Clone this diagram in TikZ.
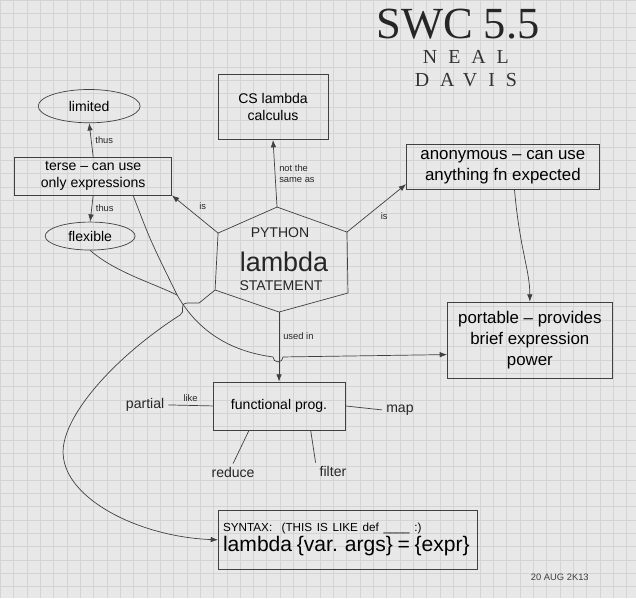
\documentclass[tikz,border=0pt]{standalone}
\usepackage{fontspec}
\setmainfont{Liberation Serif}
\setsansfont{Liberation Sans}
\newfontfamily\stampfont[LetterSpace=55]{Liberation Serif}
\usetikzlibrary{shapes.geometric, arrows.meta}

\begin{document}
\begin{tikzpicture}[
    x=0.03cm, y=-0.03cm,
    >={Latex[length=2.2mm]},
    ink/.style={draw=black!75, semithick},
    box/.style={ink, rectangle, align=center, font=\sffamily\large, inner sep=2pt},
    blob/.style={ink, ellipse, font=\sffamily\large, inner sep=1pt},
    note/.style={font=\sffamily\footnotesize, text=black!85},
    leaf/.style={font=\sffamily\large, text=black!85},
    link/.style={ink, ->}
]

% graph paper
\fill[black!9] (0,0) rectangle (636,598);
\draw[black!17, thin] (0,0) grid[step=0.4cm] (636,598);
\useasboundingbox (0,0) rectangle (636,598);

% Title
\node[font=\fontsize{38}{40}\selectfont, text=black!85] (title) at (458,24) {SWC 5.5};
\node[font={\stampfont\fontsize{17}{19}\selectfont}, text=black!80] (first) at (466,57) {NEAL};
\node[font={\stampfont\fontsize{17}{19}\selectfont}, text=black!80] (last) at (466,80) {DAVIS};
\node[font=\sffamily\footnotesize, text=black!75] (date) at (560,577) {20 AUG 2K13};

% -------------------------
% Concepts
% -------------------------

% 1. Statement (Center hexagon)
\coordinate (hexN) at (277,207);
\coordinate (hexNE) at (347,232);
\coordinate (hexSE) at (348,293);
\coordinate (hexS) at (279,312);
\coordinate (hexSW) at (215,290);
\coordinate (hexNW) at (218,233);
\draw[ink] (hexN) -- (hexNE) -- (hexSE) -- (hexS) -- (hexSW) -- (hexNW) -- cycle;
\node[font=\sffamily\large, text=black!85] (py) at (280,233) {PYTHON};
\node[font=\sffamily\fontsize{23}{25}\selectfont, text=black!85] (lam) at (284,262) {lambda};
\node[font=\sffamily\large, text=black!85] (stm) at (281,286) {STATEMENT};

% 2. Terse (Left)
\node[box, minimum width=4.71cm, minimum height=1.14cm] (terse) at (93,176)
    {terse -- can use\\only expressions};
\node[blob, minimum width=3.06cm, minimum height=1cm] (limited) at (89,106) {limited};
\node[blob, minimum width=2.7cm, minimum height=0.84cm] (flexible) at (90,236) {flexible};

% 3. Calculus (Top)
\node[box, minimum width=3.3cm, minimum height=1.95cm] (calc) at (273,107)
    {CS lambda\\calculus};

% 4. Anonymous (Right)
\node[box, font=\sffamily\Large, minimum width=5.79cm, minimum height=1.35cm] (anon) at (503,167)
    {anonymous -- can use\\anything fn expected};

% 5. Portable (Right)
\node[box, font=\sffamily\Large, minimum width=4.95cm, minimum height=2.28cm] (portable) at (530,340)
    {portable -- provides\\brief expression\\power};

% 6. Functional programming (Bottom Center)
\node[box, minimum width=3.96cm, minimum height=1.44cm] (func) at (279,406) {functional prog.};
\node[leaf] (partial) at (145,405) {partial};
\node[leaf] (map) at (400,410) {map};
\node[leaf] (reduce) at (233,473) {reduce};
\node[leaf] (filter) at (333,472) {filter};

% 7. Syntax (Bottom)
\node[box, align=left, text width=7.5cm, inner xsep=4pt, minimum height=1.8cm] (syntax) at (348,540)
    {{\normalsize SYNTAX: \ (THIS IS LIKE def \_\_\_\_ :)}\\[1pt]
     {\fontsize{18}{20}\selectfont lambda \{var. args\} = \{expr\}}};

% -------------------------
% Links
% -------------------------

\draw[link] (terse.north) -- (limited.south)
    node[note, midway, right] {thus};
\draw[link] (terse.south) -- (flexible.north)
    node[note, midway, right] {thus};

\draw[link] (hexNW) -- (terse.south east)
    node[note, midway, above right] {is};
\draw[link] (hexN) -- (calc.south)
    node[note, midway, right, align=left] {not the\\same as};
\draw[link] (hexNE) -- (anon.190)
    node[note, midway, below right] {is};
\draw[link] ([xshift=0.35cm]anon.south) .. controls (520,250) and (530,270) .. (portable.north);

\draw[link] (hexS) -- (func.north)
    node[note, pos=0.35, right] {used in};

% terse / flexible -> portable
\coordinate (merge) at (177,295);
\coordinate (hop) at (273,357);
\draw[ink] ([xshift=1.2cm]terse.south) .. controls (150,240) .. (merge);
\draw[ink] (flexible.south) .. controls (115,272) and (150,282) .. (merge);
\draw[ink] (merge) .. controls (200,335) and (235,352) .. (hop);
\draw[link] (hop) arc[start angle=180, end angle=0, radius=5] -- (portable.190);

% statement -> syntax
\draw[link] (hexSW) -- (199,303) -- (187,303) .. controls (178,304) and (186,312) .. (180,315)
    .. controls (110,360) and (60,420) .. (63,455)
    .. controls (66,500) and (140,537) .. (syntax.west);

% functional prog. examples
\draw[ink] (func.west) -- (partial.east)
    node[note, midway, above] {like};
\draw[ink] (func.east) -- (map.west);
\draw[ink] ([xshift=-0.9cm]func.south) -- (reduce.north);
\draw[ink] ([xshift=0.95cm]func.south) -- (filter.north west);

\end{tikzpicture}
\end{document}
